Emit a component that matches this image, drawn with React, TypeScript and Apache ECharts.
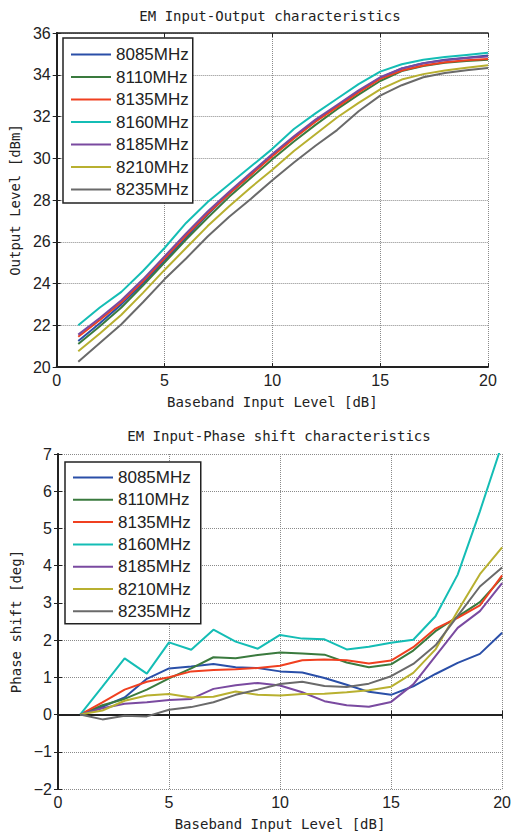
import React, { useEffect, useRef } from "react";
import * as echarts from "echarts";

const inputLevels = [1, 2, 3, 4, 5, 6, 7, 8, 9, 10, 11, 12, 13, 14, 15, 16, 17, 18, 19, 20];
const seriesNames = ["8085MHz", "8110MHz", "8135MHz", "8160MHz", "8185MHz", "8210MHz", "8235MHz"];
const seriesColors = ["#2a4fa8", "#3a7a3e", "#f04020", "#14bdb5", "#7a4aa0", "#b8b030", "#6a6a6a"];

// Output level [dBm]
const out8085 = [21.25, 22.1, 23.0, 24.0, 25.1, 26.2, 27.3, 28.3, 29.2, 30.15, 31.0, 31.8, 32.5, 33.2, 33.85, 34.3, 34.55, 34.72, 34.82, 34.92];
const out8110 = [21.1, 21.95, 22.85, 23.9, 25.0, 26.1, 27.15, 28.15, 29.05, 29.95, 30.8, 31.6, 32.35, 33.05, 33.7, 34.18, 34.42, 34.57, 34.66, 34.72];
const out8135 = [21.45, 22.25, 23.1, 24.1, 25.2, 26.3, 27.35, 28.3, 29.2, 30.1, 30.95, 31.75, 32.45, 33.15, 33.8, 34.2, 34.44, 34.6, 34.69, 34.76];
const out8160 = [22.0, 22.85, 23.6, 24.6, 25.7, 26.9, 27.9, 28.75, 29.6, 30.45, 31.4, 32.15, 32.85, 33.55, 34.15, 34.5, 34.72, 34.85, 34.95, 35.05];
const out8185 = [21.55, 22.35, 23.2, 24.2, 25.3, 26.4, 27.45, 28.4, 29.3, 30.2, 31.05, 31.85, 32.55, 33.25, 33.88, 34.3, 34.55, 34.7, 34.8, 34.87];
const out8210 = [20.75, 21.6, 22.5, 23.55, 24.65, 25.7, 26.75, 27.7, 28.6, 29.45, 30.35, 31.15, 31.95, 32.65, 33.3, 33.77, 34.03, 34.2, 34.34, 34.45];
const out8235 = [20.25, 21.15, 22.05, 23.1, 24.2, 25.2, 26.25, 27.2, 28.05, 28.95, 29.8, 30.6, 31.35, 32.25, 33.0, 33.5, 33.88, 34.08, 34.22, 34.32];

// Phase shift [deg]
const ph8085 = [0, 0.21, 0.46, 0.96, 1.24, 1.29, 1.36, 1.27, 1.25, 1.16, 1.13, 0.98, 0.8, 0.61, 0.53, 0.76, 1.09, 1.39, 1.63, 2.2];
const ph8110 = [0, 0.25, 0.42, 0.67, 0.97, 1.24, 1.54, 1.51, 1.6, 1.67, 1.64, 1.61, 1.4, 1.27, 1.35, 1.72, 2.24, 2.63, 3.02, 3.68];
const ph8135 = [0, 0.33, 0.67, 0.88, 1.0, 1.16, 1.2, 1.22, 1.25, 1.31, 1.46, 1.48, 1.46, 1.37, 1.45, 1.81, 2.31, 2.6, 2.93, 3.74];
const ph8160 = [0, 0.75, 1.51, 1.1, 1.94, 1.74, 2.28, 1.96, 1.77, 2.14, 2.04, 2.02, 1.75, 1.82, 1.93, 2.01, 2.64, 3.76, 5.46, 7.27];
const ph8185 = [0, 0.17, 0.29, 0.33, 0.39, 0.42, 0.69, 0.79, 0.85, 0.78, 0.6, 0.36, 0.25, 0.21, 0.34, 0.81, 1.57, 2.33, 2.78, 3.53];
const ph8210 = [0, 0.11, 0.37, 0.51, 0.55, 0.46, 0.48, 0.62, 0.53, 0.51, 0.55, 0.56, 0.6, 0.65, 0.75, 1.12, 1.75, 2.78, 3.77, 4.49];
const ph8235 = [0, -0.13, -0.03, -0.05, 0.13, 0.2, 0.33, 0.53, 0.67, 0.82, 0.88, 0.77, 0.74, 0.83, 1.03, 1.36, 1.86, 2.65, 3.44, 3.95];

const outputSeries = [out8085, out8110, out8135, out8160, out8185, out8210, out8235];
const phaseSeries = [ph8085, ph8110, ph8135, ph8160, ph8185, ph8210, ph8235];

const titleTop = "EM Input-Output characteristics";
const titleBottom = "EM Input-Phase shift characteristics";
const xName = "Baseband Input Level [dB]";
const yNameTop = "Output Level [dBm]";
const yNameBottom = "Phase shift [deg]";

const MONO = "'DejaVu Sans Mono', monospace";
const SANS = "'Liberation Sans', Arial, sans-serif";
const INK = "#222";

function mainX(gridIndex: number) {
  return {
    type: "value",
    gridIndex,
    min: 0,
    max: 20,
    interval: 5,
    name: xName,
    nameLocation: "middle",
    nameGap: 28,
    nameTextStyle: { fontFamily: MONO, fontSize: 14, color: INK },
    axisLine: { show: true, lineStyle: { color: INK, width: 2 } },
    axisTick: { show: true, inside: true, length: 4, lineStyle: { color: INK } },
    axisLabel: { fontFamily: SANS, fontSize: 16, color: INK, margin: 5 },
    splitLine: { show: true, lineStyle: { color: "#8a8a8a", type: "dotted", width: 1 } },
  };
}
function sideX(gridIndex: number) {
  return {
    type: "value",
    gridIndex,
    position: "top",
    min: 0,
    max: 20,
    interval: 5,
    axisLine: { show: true, lineStyle: { color: INK, width: 1.5 } },
    axisTick: { show: true, inside: true, length: 4, lineStyle: { color: INK } },
    axisLabel: { show: false },
    splitLine: { show: false },
  };
}
function mainY(gridIndex: number, min: number, max: number, interval: number, name: string, gap: number) {
  return {
    type: "value",
    gridIndex,
    min,
    max,
    interval,
    name,
    nameLocation: "middle",
    nameGap: gap,
    nameRotate: 90,
    nameTextStyle: { fontFamily: MONO, fontSize: 14, color: INK },
    axisLine: { show: true, lineStyle: { color: INK, width: 2 } },
    axisTick: { show: true, inside: true, length: 4, lineStyle: { color: INK } },
    axisLabel: {
      fontFamily: SANS,
      fontSize: 16,
      color: INK,
      margin: 6,
      formatter: (v: number) => String(v).replace("-", "\u2212"),
    },
    splitLine: { show: true, lineStyle: { color: "#8a8a8a", type: "dotted", width: 1 } },
  };
}
function sideY(gridIndex: number, min: number, max: number, interval: number) {
  return {
    type: "value",
    gridIndex,
    position: "right",
    min,
    max,
    interval,
    axisLine: { show: true, lineStyle: { color: INK, width: 1.5 } },
    axisTick: { show: true, inside: true, length: 4, lineStyle: { color: INK } },
    axisLabel: { show: false },
    splitLine: { show: false },
  };
}

function legendAt(left: number, top: number, padding: number[], itemGap: number) {
  return {
    left,
    top,
    orient: "vertical",
    data: seriesNames,
    icon: "rect",
    itemWidth: 40,
    itemHeight: 2,
    itemGap,
    padding,
    backgroundColor: "#fff",
    borderColor: INK,
    borderWidth: 1.5,
    borderRadius: 0,
    selectedMode: false,
    textStyle: { fontFamily: SANS, fontSize: 17, color: INK, lineHeight: 16 },
  };
}

export default function App() {
  const ref = useRef<HTMLDivElement>(null);
  useEffect(() => {
    if (!ref.current) return;
    const chart = echarts.init(ref.current, undefined, { renderer: "svg" });
    const series: any[] = [];
    seriesNames.forEach((name, i) => {
      series.push({
        name,
        type: "line",
        xAxisIndex: 0,
        yAxisIndex: 0,
        symbol: "none",
        clip: true,
        lineStyle: { width: 2, color: seriesColors[i] },
        itemStyle: { color: seriesColors[i] },
        data: inputLevels.map((x, k) => [x, outputSeries[i][k]]),
        z: 2,
      });
    });
    seriesNames.forEach((name, i) => {
      series.push({
        name,
        type: "line",
        xAxisIndex: 2,
        yAxisIndex: 2,
        symbol: "none",
        clip: true,
        lineStyle: { width: 2, color: seriesColors[i] },
        itemStyle: { color: seriesColors[i] },
        data: inputLevels.map((x, k) => [x, phaseSeries[i][k]]),
        z: 2,
      });
    });
    chart.setOption({
      animation: false,
      backgroundColor: "#fff",
      title: [
        {
          text: titleTop,
          left: 270,
          top: 9,
          textAlign: "center",
          padding: 0,
          textStyle: { fontFamily: MONO, fontSize: 14, fontWeight: "normal", color: INK },
        },
        {
          text: titleBottom,
          left: 279,
          top: 429,
          textAlign: "center",
          padding: 0,
          textStyle: { fontFamily: MONO, fontSize: 14, fontWeight: "normal", color: INK },
        },
      ],
      grid: [
        { left: 56, top: 33, width: 432, height: 334, show: false },
        { left: 58, top: 454, width: 445, height: 335, show: false },
      ],
      xAxis: [mainX(0), sideX(0), mainX(1), sideX(1)],
      yAxis: [
        mainY(0, 20, 36, 2, yNameTop, 29),
        sideY(0, 20, 36, 2),
        mainY(1, -2, 7, 1, yNameBottom, 31),
        sideY(1, -2, 7, 1),
      ],
      legend: [legendAt(63, 38, [8, 4, 5, 8], 5.5), legendAt(65, 462, [7, 10, 4, 8], 5.3)],
      series,
    });
    return () => chart.dispose();
  }, []);
  return <div ref={ref} style={{ position: "fixed", left: 0, top: 0, width: 514, height: 834 }} />;
}
